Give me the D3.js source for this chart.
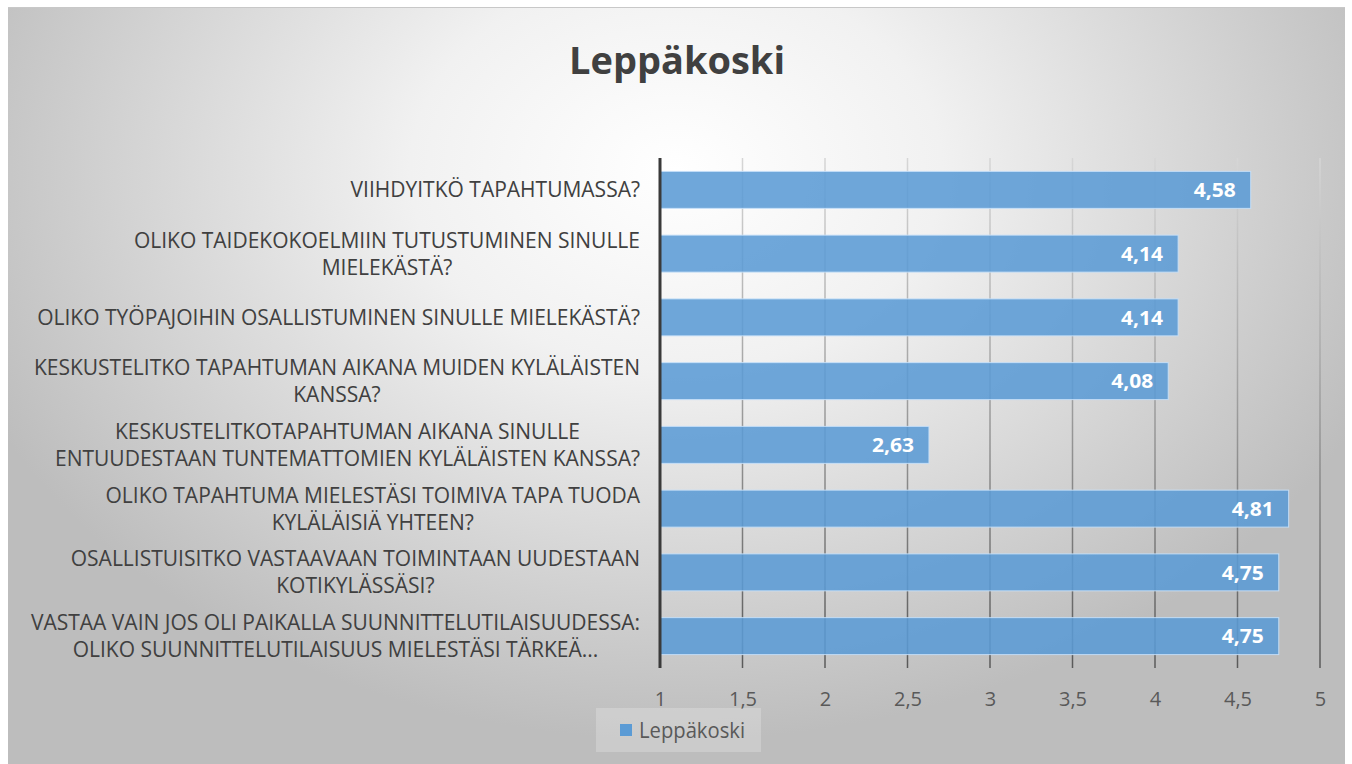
<!DOCTYPE html>
<html>
<head>
<meta charset="utf-8">
<script src="https://cdn.jsdelivr.net/npm/d3@7"></script>
<style>
  html, body { margin: 0; padding: 0; background: #fff; }
  svg { display: block; }
  text { font-family: "Open Sans", sans-serif; }
</style>
</head>
<body>
<script>
// data
var title = "Leppäkoski";
var seriesName = "Leppäkoski";
var questions = [
  ["VIIHDYITKÖ TAPAHTUMASSA?"],
  ["OLIKO TAIDEKOKOELMIIN TUTUSTUMINEN SINULLE", "MIELEKÄSTÄ?"],
  ["OLIKO TYÖPAJOIHIN OSALLISTUMINEN SINULLE MIELEKÄSTÄ?"],
  ["KESKUSTELITKO TAPAHTUMAN AIKANA MUIDEN KYLÄLÄISTEN", "KANSSA?"],
  ["KESKUSTELITKOTAPAHTUMAN AIKANA SINULLE", "ENTUUDESTAAN TUNTEMATTOMIEN KYLÄLÄISTEN KANSSA?"],
  ["OLIKO TAPAHTUMA MIELESTÄSI TOIMIVA TAPA TUODA", "KYLÄLÄISIÄ YHTEEN?"],
  ["OSALLISTUISITKO VASTAAVAAN TOIMINTAAN UUDESTAAN", "KOTIKYLÄSSÄSI?"],
  ["VASTAA VAIN JOS OLI PAIKALLA SUUNNITTELUTILAISUUDESSA:", "OLIKO SUUNNITTELUTILAISUUS MIELESTÄSI TÄRKEÄ..."]
];
var values = [4.58, 4.14, 4.14, 4.08, 2.63, 4.81, 4.75, 4.75];
var ticks = [1, 1.5, 2, 2.5, 3, 3.5, 4, 4.5, 5];

var W = 1352, H = 764;
var svg = d3.select("body").append("svg").attr("width", W).attr("height", H);
var defs = svg.append("defs");

var bg = defs.append("radialGradient").attr("id", "bg")
  .attr("gradientUnits", "userSpaceOnUse")
  .attr("cx", 676).attr("cy", 170).attr("r", 760)
  .attr("gradientTransform", "translate(676,170) scale(1,0.75) translate(-676,-170)");
bg.append("stop").attr("offset", "0").attr("stop-color", "#ffffff");
bg.append("stop").attr("offset", "0.35").attr("stop-color", "#f1f1f1");
bg.append("stop").attr("offset", "1").attr("stop-color", "#bdbdbd");

var gl = defs.append("linearGradient").attr("id", "grid")
  .attr("gradientUnits", "userSpaceOnUse")
  .attr("x1", 0).attr("y1", 158).attr("x2", 0).attr("y2", 668);
gl.append("stop").attr("offset", "0").attr("stop-color", "#d6d6d6");
gl.append("stop").attr("offset", "0.4").attr("stop-color", "#a8a8a8");
gl.append("stop").attr("offset", "1").attr("stop-color", "#5a5a5a");

// chart area
svg.append("rect").attr("x", 8).attr("y", 7).attr("width", 1337).attr("height", 757)
  .attr("fill", "url(#bg)");
svg.append("line").attr("x1", 8).attr("x2", 1345).attr("y1", 7.5).attr("y2", 7.5)
  .attr("stroke", "#c8c8c8").attr("stroke-width", 1);

svg.append("text").attr("x", 677).attr("y", 74).attr("text-anchor", "middle")
  .attr("font-size", 37).attr("font-weight", "bold").attr("fill", "#404040")
  .attr("textLength", 216).attr("lengthAdjust", "spacingAndGlyphs")
  .text(title);

var x = d3.scaleLinear().domain([1, 5]).range([660, 1320]);
var y = d3.scaleBand().domain(d3.range(values.length)).range([158, 668]).paddingInner(0.42).paddingOuter(0.21);

// gridlines + tick marks
svg.append("g").selectAll("line").data(ticks.slice(1)).join("line")
  .attr("x1", function(d) { return x(d); }).attr("x2", function(d) { return x(d); })
  .attr("y1", 158).attr("y2", 668)
  .attr("stroke", "url(#grid)").attr("stroke-width", 1.5);

// tick labels via axis
var axis = svg.append("g").attr("transform", "translate(0,668)")
  .call(d3.axisBottom(x).tickValues(ticks).tickSize(0).tickPadding(24)
    .tickFormat(function(d) { return String(d).replace(".", ","); }));
axis.select(".domain").remove();
axis.selectAll("text").attr("font-size", 20).attr("fill", "#595959")
  .style("font-family", "'Open Sans', sans-serif");

// bars
svg.append("g").selectAll("rect").data(values).join("rect")
  .attr("x", x(1))
  .attr("y", function(d, i) { return y(i); })
  .attr("width", function(d) { return x(d) - x(1); })
  .attr("height", y.bandwidth())
  .attr("fill", "rgba(91,155,213,0.88)")
  .attr("stroke", "rgba(200,225,250,0.9)").attr("stroke-width", 1);

// value labels
svg.append("g").selectAll("text").data(values).join("text")
  .attr("x", function(d) { return x(d) - 15; })
  .attr("y", function(d, i) { return y(i) + y.bandwidth() / 2; })
  .attr("dy", "0.36em").attr("text-anchor", "end")
  .attr("font-size", 20).attr("font-weight", "bold").attr("fill", "#ffffff")
  .attr("textLength", 42).attr("lengthAdjust", "spacingAndGlyphs")
  .text(function(d) { return d.toFixed(2).replace(".", ","); });

// value axis line (at 1)
svg.append("line").attr("x1", x(1)).attr("x2", x(1)).attr("y1", 158).attr("y2", 668)
  .attr("stroke", "#3a3a3a").attr("stroke-width", 3);

// category labels
var lineH = 27;
var cats = svg.append("g");
questions.forEach(function(lines, i) {
  var g = cats.append("g");
  var cy = y(i) + y.bandwidth() / 2;
  var ts = lines.map(function(l, j) {
    return g.append("text")
      .attr("y", cy + (j - (lines.length - 1) / 2) * lineH)
      .attr("dy", "0.36em").attr("text-anchor", "middle")
      .attr("font-size", 21).attr("fill", "#404040")
      .text(l);
  });
  var maxW = d3.max(ts, function(t) { return t.node().getComputedTextLength(); });
  ts.forEach(function(t) { t.attr("x", 640 - maxW / 2); });
});

// legend
var lg = svg.append("g");
lg.append("rect").attr("x", 596).attr("y", 708).attr("width", 165).attr("height", 44)
  .attr("fill", "rgba(255,255,255,0.22)");
lg.append("rect").attr("x", 620).attr("y", 724).attr("width", 12).attr("height", 12)
  .attr("fill", "#5b9bd5");
lg.append("text").attr("x", 639).attr("y", 730).attr("dy", "0.36em")
  .attr("font-size", 21).attr("fill", "#595959")
  .attr("textLength", 106).attr("lengthAdjust", "spacingAndGlyphs")
  .text(seriesName);
</script>
</body>
</html>
